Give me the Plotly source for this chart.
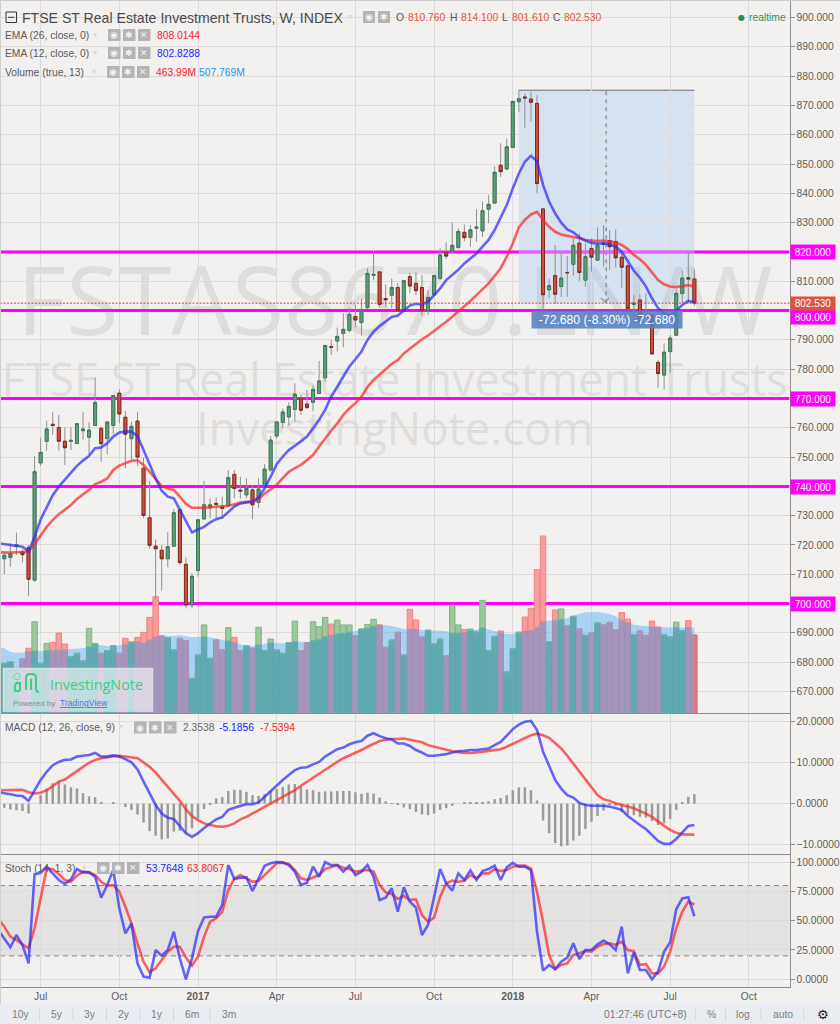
import pandas as pd
import plotly.graph_objects as go

WEEKS = pd.date_range("2016-05-16", periods=116, freq="7D")
BAR_DATES = WEEKS[1:]

OPEN = [715.3,715.7,719.5,717.6,719.1,708.0,748.0,755.4,761.2,760.1,755.4,755.4,754.6,759.0,756.8,760.8,759.8,756.3,760.8,771.8,763.6,756.3,762.3,746.2,729.3,719.6,718.2,715.3,719.6,732.0,713.4,699.5,711.3,728.9,732.7,734.2,733.0,733.4,744.1,738.7,737.1,738.8,734.5,739.9,745.6,757.2,761.8,763.7,766.3,770.0,768.1,768.7,771.7,777.1,787.7,789.6,792.2,793.2,798.0,795.9,801.0,812.0,813.2,804.1,805.2,807.9,800.4,811.6,809.3,807.9,800.0,805.4,811.0,819.9,820.4,821.5,826.7,825.0,828.1,827.2,834.6,836.7,849.6,848.3,855.7,871.3,872.9,872.2,870.7,834.7,807.1,812.0,808.2,813.0,815.8,823.0,810.4,821.2,817.2,823.0,823.9,823.6,818.2,815.3,802.1,803.6,798.2,798.5,782.3,778.0,786.0,791.6,805.8,811.2,810.76]
HIGH = [717.4,720.6,724.2,718.5,720.0,750.4,756.7,762.4,765.3,764.4,760.1,760.1,761.5,765.3,761.9,777.1,760.4,762.1,771.2,773.1,765.8,762.1,765.3,749.8,741.8,721.9,720.0,724.3,732.2,732.2,715.8,710.3,728.7,741.9,735.9,736.2,736.5,745.6,745.6,743.3,742.8,740.5,742.8,747.6,757.2,762.1,766.6,768.7,775.2,771.2,772.9,774.4,782.8,788.3,790.0,794.2,799.1,801.0,802.1,804.0,814.4,820.3,813.3,809.0,810.9,809.5,810.4,812.9,813.0,812.1,807.0,812.1,821.2,823.3,830.0,828.1,829.4,829.2,834.6,837.2,839.4,849.3,857.1,858.8,871.5,875.2,874.1,874.7,873.6,834.9,810.8,822.4,819.5,818.6,824.6,826.4,823.0,824.6,828.4,829.2,827.5,827.7,819.9,815.8,805.3,805.6,805.9,798.6,783.1,788.8,791.6,807.2,813.8,819.9,814.1]
LOW = [710.1,712.6,716.6,714.0,702.6,707.5,747.0,752.2,757.5,752.2,747.3,752.4,754.5,756.0,751.0,760.7,748.4,751.0,758.0,761.5,746.2,749.2,747.0,729.1,718.8,701.3,704.4,712.4,719.4,713.2,698.4,698.4,709.2,728.5,729.1,729.1,728.8,733.1,735.9,735.9,735.9,728.8,732.5,739.3,745.0,756.3,759.8,760.7,762.1,764.4,766.4,765.7,771.6,775.8,784.8,786.0,787.5,792.5,794.3,791.5,800.6,810.4,801.0,801.3,800.8,799.6,800.2,805.9,805.3,798.2,798.5,805.0,810.4,817.6,819.5,821.2,823.7,821.8,823.5,825.2,829.8,836.6,845.6,848.2,855.6,867.7,862.4,864.5,840.0,800.2,804.2,802.3,804.7,804.7,811.9,810.1,808.1,813.3,817.0,815.0,814.0,814.7,807.6,799.7,795.4,795.9,797.3,785.1,773.7,773.1,778.8,791.5,802.5,802.5,801.61]
CLOSE = [716.5,717.0,720.1,716.7,708.3,745.0,751.6,759.6,760.8,755.4,753.2,755.7,761.4,759.6,759.2,768.6,754.6,762.0,771.0,764.7,757.8,760.5,750.0,730.1,719.9,718.7,715.3,719.4,731.0,714.0,699.5,709.3,728.6,733.7,733.7,733.9,732.5,743.0,739.3,738.4,739.3,733.7,739.1,745.9,755.8,762.0,765.4,767.3,771.5,766.0,766.9,773.1,776.0,788.1,787.5,791.2,793.6,798.7,796.8,800.2,812.7,812.4,802.1,803.7,807.9,799.9,810.2,808.4,806.8,799.9,804.5,812.0,819.0,818.6,822.3,827.0,824.9,827.6,828.5,834.1,836.3,847.2,847.4,855.9,871.4,872.3,872.6,871.1,843.4,805.4,808.5,805.6,811.1,812.9,822.3,813.0,818.4,818.2,822.3,822.6,821.8,818.0,814.8,800.7,802.6,796.2,797.7,785.2,778.5,785.8,790.6,805.9,811.1,810.8,802.53]

EMA_12 = [720.6,720.3,719.9,719.8,719.4,717.7,722.8,728.7,733.1,737.0,739.9,742.2,744.4,747.0,748.8,750.4,753.0,753.3,754.7,757.0,758.4,758.7,758.7,757.2,752.4,747.3,742.7,738.5,736.5,735.9,732.0,728.0,724.3,725.3,726.2,727.7,728.8,729.4,731.4,733.1,734.2,734.6,734.8,736.3,739.3,743.3,747.6,750.2,752.4,753.8,755.3,757.0,759.8,762.7,766.1,770.6,774.0,777.5,780.9,783.4,786.0,790.0,792.8,794.7,796.2,797.8,798.3,800.1,801.7,802.3,802.1,803.0,805.3,807.6,810.4,812.2,813.9,816.1,817.8,819.5,821.8,824.1,827.5,831.5,836.0,841.7,846.8,850.8,852.8,851.0,842.9,837.2,833.2,830.0,827.7,826.7,825.0,823.9,823.1,822.8,823.0,822.6,821.8,820.1,816.7,813.6,811.2,808.2,804.2,800.8,799.1,798.5,800.0,801.9,803.3,802.83]
EMA_26 = [717.5,717.4,717.4,717.5,717.5,717.7,720.3,723.4,726.2,728.5,730.5,732.0,733.6,735.7,737.3,738.8,740.8,741.6,742.7,745.6,747.1,747.9,748.7,748.9,747.3,745.0,742.7,740.1,739.3,738.8,736.5,734.0,732.7,732.6,732.7,732.9,733.0,733.1,733.4,733.9,734.5,734.7,734.8,735.6,737.6,739.0,740.5,742.8,745.0,746.2,747.3,749.0,750.7,753.6,756.4,759.0,761.5,764.4,766.6,768.4,770.6,774.0,776.3,778.0,780.0,781.8,783.1,785.4,787.1,788.5,790.2,791.5,793.0,794.5,796.2,797.9,799.6,801.3,803.3,805.3,807.3,809.3,811.8,814.4,818.4,822.9,828.4,831.0,832.8,833.7,830.9,828.6,826.9,826.0,825.5,825.2,824.7,824.1,823.9,823.7,823.9,823.6,823.2,822.4,821.0,819.0,817.5,815.6,813.0,810.4,809.0,808.2,808.0,808.4,808.7,808.01]

VOLUME = [295,305,266,321,385,543,295,414,420,476,410,335,355,309,504,414,355,371,399,355,444,424,450,480,569,692,458,448,375,444,430,206,345,524,325,434,375,508,450,371,399,385,510,371,440,375,355,418,547,371,418,543,514,569,529,553,524,524,460,500,527,557,524,391,434,480,345,617,553,452,492,412,440,341,641,524,496,500,482,670,371,456,488,244,383,482,571,623,853,1053,424,613,619,518,575,500,462,476,535,524,539,496,597,559,466,488,462,547,510,466,452,541,490,549,463.99]
VOLUME_MA = [395,385,365,359,359,365,369,369,371,371,373,375,379,381,385,393,408,405,397,399,403,408,418,424,414,434,454,458,456,458,464,458,450,454,454,450,444,438,428,418,410,401,399,405,410,418,418,414,422,424,424,422,430,438,454,464,470,474,480,488,498,504,514,522,524,518,510,500,498,498,496,492,492,490,486,476,476,480,492,496,506,496,486,476,470,470,476,486,490,506,545,551,551,555,565,579,591,599,603,603,597,589,575,551,539,525,520,516,512,512,510,510,508,508,508,507.77]

MACD_LINE = [2.8,2.6,2.3,2.0,1.9,0.7,3.3,5.8,7.8,9.4,10.2,10.7,10.8,11.5,11.7,11.9,12.4,11.5,11.5,11.8,11.5,10.9,10.1,8.4,5.4,2.5,-0.3,-2.4,-3.4,-3.7,-5.4,-7.2,-8.1,-7.2,-5.9,-4.8,-3.8,-3.2,-1.5,-1.0,-0.5,-0.1,-0.1,0.3,1.7,3.1,4.6,5.8,7.0,8.2,8.8,8.9,9.6,10.2,11.5,12.3,13.3,13.7,14.5,15.0,15.3,16.6,17.2,16.5,16.0,15.7,14.7,14.7,14.1,13.1,12.5,11.7,11.7,11.9,12.1,12.5,12.8,12.9,13.1,13.1,13.3,13.5,14.3,15.1,16.6,18.2,19.3,20.0,20.2,18.0,12.7,9.4,5.8,3.7,2.1,1.5,0.2,-0.3,-0.5,-0.5,-0.5,-0.7,-1.1,-1.5,-3.0,-4.2,-5.2,-6.2,-7.6,-9.1,-9.8,-9.8,-8.6,-7.0,-5.4,-5.1856]
MACD_SIGNAL = [3.3,3.3,3.4,3.4,3.4,2.8,2.5,2.7,3.3,4.3,5.4,5.9,7.0,8.0,9.0,10.0,10.7,11.1,11.4,11.6,11.7,11.5,11.4,11.1,10.1,9.0,7.6,5.9,4.1,2.5,0.7,-1.4,-3.0,-4.0,-4.8,-5.2,-5.5,-5.6,-5.4,-4.8,-3.8,-3.2,-2.4,-1.7,-0.9,0.1,0.9,1.7,2.5,3.3,4.4,5.4,6.2,7.4,8.2,9.2,10.2,11.1,11.7,12.4,13.1,13.9,14.7,15.3,15.6,15.8,15.8,15.9,15.6,15.3,15.0,14.3,13.9,13.5,13.1,12.8,12.6,12.4,12.4,12.5,12.7,12.9,13.1,13.3,13.9,14.6,15.4,16.1,16.7,17.1,16.7,16.1,14.7,13.5,11.7,9.8,7.8,5.8,4.0,2.1,1.1,0.7,0.1,-0.3,-0.7,-1.1,-1.8,-2.4,-3.2,-4.4,-5.4,-6.4,-7.1,-7.5,-7.6,-7.5394]
MACD_HIST = [-1.0,-1.4,-1.6,-1.8,-2.4,0.0,2.1,3.7,5.0,5.4,4.7,4.0,3.7,2.6,1.8,1.6,0.3,0.0,0.2,0.0,-0.8,-1.5,-2.6,-4.6,-6.7,-7.8,-8.7,-8.5,-6.8,-6.6,-7.2,-6.0,-3.6,-1.3,-0.1,1.3,1.6,3.1,3.4,3.4,2.9,2.1,1.9,2.3,3.1,3.6,4.1,4.7,4.8,4.1,3.5,3.3,2.9,3.0,3.0,3.1,3.1,3.1,2.8,2.4,2.7,2.5,1.5,0.6,0.1,-0.3,-0.9,-1.3,-2.0,-2.6,-2.8,-2.4,-1.5,-1.1,-0.5,0.0,0.2,0.3,0.3,0.4,0.6,1.1,1.4,2.1,3.3,4.0,4.0,3.3,0.8,-4.1,-7.2,-9.6,-10.4,-10.2,-9.0,-7.8,-6.2,-4.4,-3.0,-1.7,-0.1,-0.5,-2.1,-2.6,-2.8,-3.2,-3.4,-4.2,-5.2,-4.8,-3.7,-1.5,0.2,1.7,2.3538]

STOCH_K = [42.0,34.4,27.3,37.8,29.3,13.6,89.5,90.9,96.0,90.3,84.7,81.3,85.2,94.0,91.2,91.2,87.5,69.6,80.4,93.2,60.5,39.2,47.7,13.6,2.3,1.4,25.0,20.2,25.0,40.6,17.9,0.0,17.9,41.2,52.8,53.4,53.4,63.4,97.4,85.5,86.6,86.9,75.3,86.0,96.9,98.9,100.0,99.7,97.4,91.8,80.4,82.4,96.0,87.5,100.0,97.4,97.4,91.8,96.9,88.9,91.8,97.4,87.5,67.6,69.6,77.6,57.7,78.4,66.2,61.1,37.8,46.3,70.5,94.0,81.8,75.6,90.3,84.7,92.9,84.7,92.3,94.0,96.9,84.7,95.5,99.4,96.0,96.0,93.2,40.6,7.4,12.2,8.8,15.0,18.5,30.7,17.3,25.0,25.0,29.8,33.0,29.8,25.0,44.9,5.1,23.0,8.0,8.0,0.0,6.5,23.6,31.5,59.7,69.0,69.9,53.7648]
STOCH_D = [51.4,44.9,36.4,33.5,29.8,26.4,43.5,69.0,94.6,93.8,89.8,84.7,83.2,88.4,91.8,91.2,88.9,83.2,79.8,80.4,74.7,61.9,47.7,30.7,15.1,6.0,9.4,16.5,23.6,27.8,27.8,18.5,11.6,19.3,36.4,49.1,52.0,57.7,76.1,86.1,88.9,86.1,83.2,83.8,88.9,94.6,98.9,99.4,98.3,93.2,86.1,84.7,86.9,88.9,94.0,96.0,97.4,95.2,94.0,91.8,92.6,93.2,91.8,80.4,74.1,72.7,68.5,71.0,67.6,68.2,54.8,49.1,52.6,70.5,81.8,84.1,83.2,84.1,88.9,86.1,90.3,90.3,94.0,92.3,93.2,96.0,96.9,96.9,94.6,74.7,49.1,20.7,8.8,12.2,13.6,20.7,22.2,24.1,23.6,27.8,30.1,30.7,29.3,32.1,25.0,24.1,12.2,13.1,5.1,5.1,10.8,23.6,43.5,57.7,66.2,63.8067]

LEVELS = [820, 800, 770, 740, 700]
LAST_PRICE = 802.53
MEASURE_HIGH = 875.21
MEASURE_START = "2018-01-08"
MEASURE_MID = "2018-04-19"
MEASURE_END = "2018-07-30"
TIME_TICKS = ["2016-07-04","2016-10-03","2017-01-02","2017-04-03","2017-07-03","2017-10-02","2018-01-01","2018-04-02","2018-07-02","2018-10-01"]
TIME_LABELS = ["Jul","Oct","<b>2017</b>","Apr","Jul","Oct","<b>2018</b>","Apr","Jul","Oct"]
PRICE_TICKS = [670,680,690,700,710,720,730,740,750,760,770,780,790,800,810,820,830,840,850,860,870,880,890,900]
RANGES = ["10y","5y","3y","2y","1y","6m","3m"]
X_RANGE = ["2016-05-18", "2018-11-17"]
PRICE_RANGE = [662.66, 906.0]

W, H = 840, 1024
BG = "#f3f1f0"
GRID = "#dcdadb"
AXIS = "#8e8e8e"
TICK = "#5d5d5d"
FONT = "Liberation Sans"
RIGHT = 789.5
def X(p): return p / W
def Y(p): return 1 - p / H

up = [c >= o for o, c in zip(OPEN, CLOSE)]
vol_low = [min(v, m) for v, m in zip(VOLUME, VOLUME_MA[1:])]
vol_high = [v - l for v, l in zip(VOLUME, vol_low)]

fig = go.Figure()
common = dict(hoverinfo="skip", showlegend=False)

# horizontal levels sit in the base pane, under volume and candles
for lv in LEVELS:
    fig.add_scatter(x=X_RANGE, y=[lv, lv], mode="lines", line=dict(color="#ff00ff", width=3), **common)
fig.add_scatter(x=[MEASURE_START, MEASURE_END], y=[820, 820], mode="lines",
                line=dict(color="rgba(190,215,245,0.45)", width=3), **common)

# volume, on its own hidden scale
fig.add_bar(x=BAR_DATES, y=vol_low, width=545e6, yaxis="y4",
            marker=dict(color=["#659f66" if u else "#ed757c" for u in up],
                        line=dict(width=1, color=["#4f9a70" if u else "#d86a7e" for u in up])), **common)
fig.add_bar(x=BAR_DATES, y=vol_high, base=vol_low, width=545e6, yaxis="y4",
            marker=dict(color=["#9dc89b" if u else "#f99c9c" for u in up],
                        line=dict(width=1, color=["#7cb487" if u else "#f08282" for u in up])), **common)
fig.add_scatter(x=WEEKS, y=VOLUME_MA, yaxis="y4", mode="lines", line=dict(width=0),
                fill="tozeroy", fillcolor="rgba(95,181,244,0.5)", **common)

# candles: wicks, then bodies
fig.add_candlestick(x=BAR_DATES, open=OPEN, high=HIGH, low=LOW, close=CLOSE, whiskerwidth=0, yaxis="y5",
                    increasing=dict(line=dict(color="#8f8f8f", width=1), fillcolor="#5f9e78"),
                    decreasing=dict(line=dict(color="#8f8f8f", width=1), fillcolor="#d2503c"), **common)
fig.add_candlestick(x=BAR_DATES, open=OPEN, close=CLOSE, yaxis="y5",
                    high=[max(o, c) for o, c in zip(OPEN, CLOSE)],
                    low=[min(o, c) for o, c in zip(OPEN, CLOSE)], whiskerwidth=0,
                    increasing=dict(line=dict(color="#3f7a58", width=1), fillcolor="#5f9e78"),
                    decreasing=dict(line=dict(color="#7f2a1f", width=1), fillcolor="#d2503c"), **common)

BLUE = "rgba(45,45,250,0.72)"
RED = "rgba(250,40,40,0.72)"
fig.add_scatter(x=WEEKS, y=EMA_26, yaxis="y5", mode="lines", line=dict(color=RED, width=2.6), **common)
fig.add_scatter(x=WEEKS, y=EMA_12, yaxis="y5", mode="lines", line=dict(color=BLUE, width=2.6), **common)

# MACD
fig.add_bar(x=BAR_DATES, y=MACD_HIST, width=250e6, xaxis="x2", yaxis="y2",
            marker=dict(color="#9b9b9b", line=dict(width=0)), **common)
fig.add_scatter(x=WEEKS, y=MACD_SIGNAL, xaxis="x2", yaxis="y2", mode="lines", line=dict(color=RED, width=2.6), **common)
fig.add_scatter(x=WEEKS, y=MACD_LINE, xaxis="x2", yaxis="y2", mode="lines", line=dict(color=BLUE, width=2.6), **common)

# Stochastic
fig.add_scatter(x=WEEKS, y=STOCH_D, xaxis="x3", yaxis="y3", mode="lines", line=dict(color=RED, width=2.6), **common)
fig.add_scatter(x=WEEKS, y=STOCH_K, xaxis="x3", yaxis="y3", mode="lines", line=dict(color=BLUE, width=2.6), **common)

shapes, notes = [], []

def text(px, py, s, color="#5a5a5a", size=10.5, anchor="left", font=FONT):
    notes.append(dict(xref="paper", yref="paper", x=X(px), y=Y(py), text=s, showarrow=False,
                      xanchor=anchor, yanchor="middle", font=dict(family=font, size=size, color=color),
                      borderpad=0, borderwidth=0))

def box(x0, y0, x1, y1, fill, line=None, layer="above", width=1):
    shapes.append(dict(type="rect", xref="paper", yref="paper", x0=X(x0), x1=X(x1), y0=Y(y0), y1=Y(y1),
                       fillcolor=fill, line=dict(color=line or "rgba(0,0,0,0)", width=width if line else 0), layer=layer))

def seg(x0, y0, x1, y1, color, width=1, layer="above"):
    shapes.append(dict(type="line", xref="paper", yref="paper", x0=X(x0), x1=X(x1), y0=Y(y0), y1=Y(y1),
                       line=dict(color=color, width=width), layer=layer))

def icons(xs, yc, size=12.5):
    for x0, g in zip(xs, ["◉", "✱", "✕"]):
        box(x0, yc - 6, x0 + size, yc + 6, "#b4b4b4")
        text(x0 + size / 2, yc, g, color="#f3f3f3", size=9, anchor="center", font="DejaVu Sans")

# watermark text below the marks
for (cy, s, size, col) in [(304, "FSTAS8670.LN/W", 95.5, "#dfdddc"),
                           (382, "FTSE ST Real Estate Investment Trusts", 44.8, "#e0dedd"),
                           (430, "InvestingNote.com", 45.5, "#e0dedd")]:
    shapes.append(dict(type="rect", xref="paper", yref="paper", x0=0, x1=X(RIGHT), y0=Y(cy + 30), y1=Y(cy - 30),
                       line=dict(width=0), fillcolor="rgba(0,0,0,0)", layer="below",
                       label=dict(text=s, font=dict(family="Open Sans", size=size, color=col), textposition="middle center")))
# measure tool
shapes.append(dict(type="rect", xref="x", yref="y", x0=MEASURE_START, x1=MEASURE_END, y0=LAST_PRICE, y1=MEASURE_HIGH,
                   fillcolor="rgba(140,185,240,0.28)", line=dict(width=0), layer="below"))
shapes.append(dict(type="line", xref="x", yref="y", x0=MEASURE_START, x1=MEASURE_END, y0=MEASURE_HIGH, y1=MEASURE_HIGH,
                   line=dict(color="#6a6a6a", width=1), layer="below"))
shapes.append(dict(type="line", xref="x", yref="y", x0=MEASURE_MID, x1=MEASURE_MID, y0=LAST_PRICE, y1=MEASURE_HIGH,
                   line=dict(color="#8a8a8a", width=1.4, dash="4px,4px"), layer="below"))
shapes.append(dict(type="path", xref="paper", yref="paper", layer="below", line=dict(color="#8a8a8a", width=1.2),
                   path=f"M{X(601)},{Y(298)} L{X(605)},{Y(302)} L{X(609)},{Y(298)}"))
# last price
shapes.append(dict(type="line", xref="paper", yref="y", x0=0, x1=X(RIGHT), y0=LAST_PRICE, y1=LAST_PRICE,
                   line=dict(color="#e0402a", width=1, dash="2px,1.5px"), layer="above"))
# stochastic band
shapes.append(dict(type="rect", xref="paper", yref="y3", x0=0, x1=X(RIGHT), y0=20, y1=80,
                   fillcolor="rgba(110,100,110,0.11)", line=dict(width=0), layer="below"))
for lv in (80, 20):
    shapes.append(dict(type="line", xref="paper", yref="y3", x0=0, x1=X(RIGHT), y0=lv, y1=lv,
                       line=dict(color="#858585", width=1, dash="5px,4px"), layer="below"))

# price tags
for lv, shift in zip(LEVELS, [-0.5, -6.5, -0.5, -0.5, -0.5]):
    notes.append(dict(xref="paper", yref="y", x=X(790), y=lv, yshift=shift, text=f"{lv:.3f}", showarrow=False,
                      xanchor="left", yanchor="middle", width=44, height=14, bgcolor="#ff00ff", align="center",
                      font=dict(family=FONT, size=10, color="#ffffff"), borderpad=0))
notes.append(dict(xref="paper", yref="y", x=X(790), y=LAST_PRICE, yshift=0, text=f"{LAST_PRICE:.3f}", showarrow=False,
                  xanchor="left", yanchor="middle", width=44, height=13, bgcolor="#d9553f", align="center",
                  font=dict(family=FONT, size=10, color="#ffffff"), borderpad=0))
notes.append(dict(xref="x", yref="y", x=MEASURE_MID, y=LAST_PRICE, yshift=-16, xshift=0.5,
                  text="-72.680 (-8.30%) -72.680", showarrow=False, width=150, height=17,
                  bgcolor="rgba(83,128,190,0.88)", align="center",
                  font=dict(family=FONT, size=12.2, color="#ffffff"), borderpad=0))

# header
box(6, 12, 16.5, 22.5, "rgba(0,0,0,0)", line="#333333", width=1)
seg(8, 17.3, 14.5, 17.3, "#333333")
text(22, 17.5, "FTSE ST Real Estate Investment Trusts, W, INDEX", color="#4a4a4a", size=14.1)
text(348, 16, "▾", color="#d8d8d8", size=8, font="DejaVu Sans")
box(363, 11, 375, 23, "#b4b4b4"); text(369, 17, "◉", "#f3f3f3", 9, "center", "DejaVu Sans")
box(378, 11, 390, 23, "#b4b4b4"); text(384, 17, "✱", "#f3f3f3", 9, "center", "DejaVu Sans")
for lab, lx, val, vx in [("O", 396, "810.760", 408), ("H", 450, "814.100", 461), ("L", 502, "801.610", 512), ("C", 553, "802.530", 563.5)]:
    text(lx, 17, lab, "#555555", 10.3)
    text(vx, 17, val, "#e2553f", 10.3)
notes.append(dict(xref="paper", yref="paper", x=X(741.7), y=Y(17), text="●", showarrow=False, xanchor="center", yanchor="middle",
                  font=dict(family="DejaVu Sans", size=8, color="#2e8b57")))
text(748.5, 17, "realtime", "#3a8f68", 10.3)

for row_y, label, icon_x, vals in [
    (35, "EMA (26, close, 0)", 108, [(157, "808.0144", "#ff2020")]),
    (53, "EMA (12, close, 0)", 108, [(157, "802.8288", "#2020ff")]),
    (72, "Volume (true, 13)", 107, [(156, "463.99M", "#ff2020"), (199, "507.769M", "#2196f3")]),
    (727.5, "MACD (12, 26, close, 9)", 134, [(183, "2.3538", "#666666"), (219, "-5.1856", "#2020ff"), (259.5, "-7.5394", "#ff2020")]),
    (868, "Stoch (14, 1, 3)", 97, [(146, "53.7648", "#2020ff"), (187, "63.8067", "#ff2020")]),
]:
    text(5, row_y, label, "#5a5a5a", 10.3)
    text(icon_x - 15, row_y - 1, "▾", "#d8d8d8", 8, font="DejaVu Sans")
    icons([icon_x, icon_x + 15, icon_x + 30], row_y)
    for vx, v, c in vals:
        text(vx, row_y, v, c, 10.3)

# logo
box(3, 668, 153, 711.5, "rgba(255,255,255,0.6)", line="rgba(255,255,255,0.35)")
G = "#3ecf7e"
shapes.append(dict(type="path", xref="paper", yref="paper", layer="above", line=dict(color=G, width=2),
                   path=(f"M{X(26)},{Y(690)} L{X(26)},{Y(678)} Q{X(26)},{Y(674)} {X(30)},{Y(674)} "
                         f"L{X(32)},{Y(674)} Q{X(36)},{Y(674)} {X(36)},{Y(678)} L{X(36)},{Y(689)} Q{X(36)},{Y(692)} {X(39)},{Y(692)}")))
shapes.append(dict(type="path", xref="paper", yref="paper", layer="above", line=dict(color=G, width=2),
                   path=(f"M{X(31)},{Y(690)} L{X(31)},{Y(679)} M{X(20)},{Y(691)} L{X(15)},{Y(691)} "
                         f"Q{X(14)},{Y(684)} {X(17)},{Y(683)} L{X(20)},{Y(683)} L{X(20)},{Y(691)}")))
text(17, 675.5, "○", G, 9, "center", "DejaVu Sans")
seg(44, 674, 44, 692, "#cfcfcf")
text(49.5, 684, "InvestingNote", G, 14.4, font="Open Sans")
text(12.5, 703, "Powered by", "#8a8a8a", 8)
text(60, 703, "<u>TradingView</u>", "#5b6ee1", 8.6)

# toolbar
box(0, 1004, 840, 1024, "#e9ecf1")
for cx, r in zip([20, 57, 90, 124, 157, 192, 229], RANGES):
    text(cx, 1014, r, "#7c7c7c", 10.3, "center")
for sx in [39.5, 73, 106.5, 140, 173.5, 210]:
    seg(sx, 1008, sx, 1021, "#d5d8dd")
text(645, 1014, "01:27:46 (UTC+8)", "#7c7c7c", 10.3, "center")
text(711, 1014, "%", "#7c7c7c", 10.3, "center")
text(743, 1014, "log", "#7c7c7c", 10.3, "center")
text(783, 1014, "auto", "#7c7c7c", 10.3, "center")
for sx in [695.7, 725.5, 761, 803.7]:
    seg(sx, 1008, sx, 1021, "#d5d8dd")
text(822.5, 1014, "⚙", "#222222", 13, "center", "DejaVu Sans")
# frame
seg(0, 0.5, 840, 0.5, "#cfcfcf")
seg(0.5, 0, 0.5, 1004, "#cfcfcf")

xbase = dict(range=X_RANGE, domain=[0, X(RIGHT)], showgrid=True, gridcolor=GRID, gridwidth=1,
             tickvals=TIME_TICKS, ticktext=TIME_LABELS, showline=True, linecolor=AXIS, linewidth=1,
             zeroline=False, ticks="", tickfont=dict(family=FONT, size=10.3, color=TICK), rangeslider=dict(visible=False))
ybase = dict(side="right", showgrid=True, gridcolor=GRID, gridwidth=1, zeroline=False, showline=True, linecolor=AXIS,
             linewidth=1, ticks="outside", ticklen=4, tickcolor=AXIS, tickfont=dict(family=FONT, size=10.3, color=TICK))

fig.update_layout(
    width=W, height=H, autosize=False, margin=dict(l=0, r=0, t=0, b=0), paper_bgcolor=BG, plot_bgcolor=BG,
    font=dict(family=FONT), barmode="overlay", showlegend=False,
    xaxis={**xbase, "anchor": "y", "showticklabels": False},
    xaxis2={**xbase, "anchor": "y2", "matches": "x", "showticklabels": False},
    xaxis3={**xbase, "anchor": "y3", "matches": "x", "showticklabels": True},
    yaxis={**ybase, "domain": [Y(713), 1], "anchor": "x", "range": PRICE_RANGE,
           "tickvals": PRICE_TICKS, "ticktext": ["" if t in LEVELS else f"{t:.3f}" for t in PRICE_TICKS]},
    yaxis2={**ybase, "domain": [Y(854), Y(714)], "anchor": "x2", "range": [-12.27, 21.9], "dtick": 10, "tick0": 0, "tickformat": ".4f"},
    yaxis3={**ybase, "domain": [Y(987), Y(855)], "anchor": "x3", "range": [-6.56, 106.0], "dtick": 25, "tick0": 0, "tickformat": ".4f"},
    yaxis4=dict(overlaying="y", anchor="x", side="left", visible=False, range=[0, 713 * 5.95], showgrid=False),
    yaxis5=dict(overlaying="y", anchor="x", side="right", visible=False, range=PRICE_RANGE, showgrid=False),
    shapes=shapes, annotations=notes,
)
fig.write_html("out.html", config={"displayModeBar": False},
               post_script="document.body.style.margin='0';document.documentElement.style.overflow='hidden';")
